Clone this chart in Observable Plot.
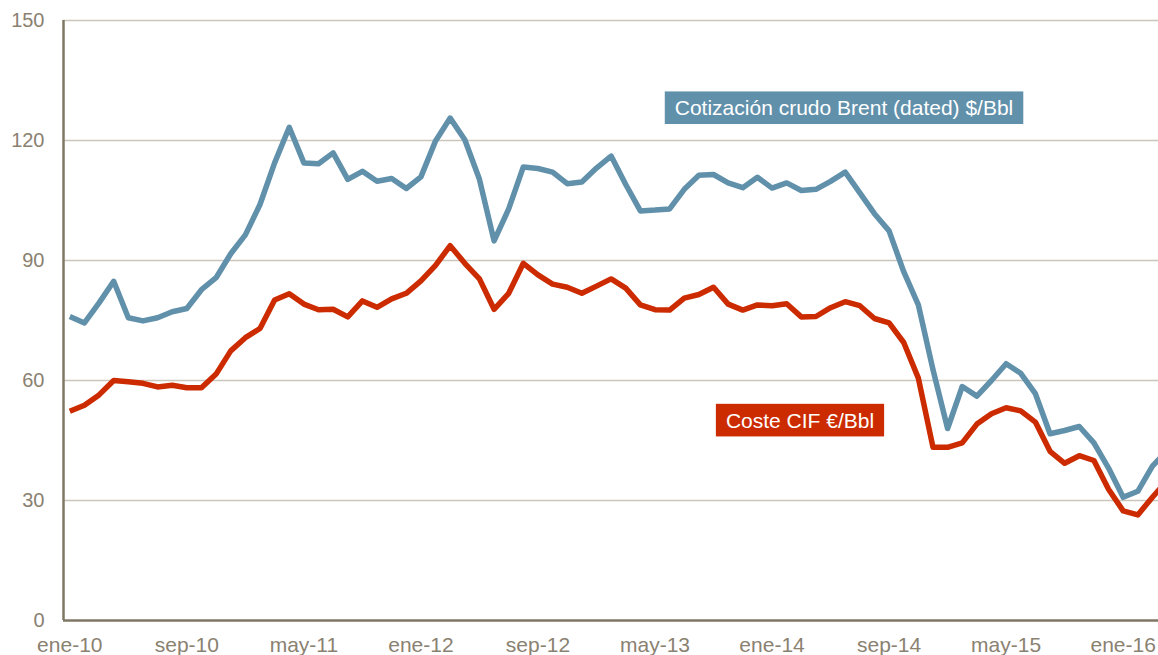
<!DOCTYPE html>
<html>
<head>
<meta charset="utf-8">
<script src="https://cdn.jsdelivr.net/npm/d3@7"></script>
<script src="https://cdn.jsdelivr.net/npm/@observablehq/plot@0.6"></script>
<style>
  html, body { margin: 0; padding: 0; background: #fff; }
  #chart { width: 1158px; height: 655px; }
</style>
</head>
<body>
<div id="chart"></div>
<script>
// Monthly series, ene-10 .. abr-16
const brent = [76.0, 74.4, 79.4, 84.8, 75.7, 74.9, 75.7, 77.2, 78.0, 82.7, 85.7, 91.7,
  96.4, 104.0, 114.4, 123.3, 114.4, 114.2, 116.9, 110.3, 112.3, 109.8, 110.5, 108.0,
  110.9, 119.9, 125.6, 120.2, 110.3, 94.9, 102.9, 113.4, 113.0, 112.1, 109.2, 109.6,
  113.1, 116.1, 109.0, 102.4, 102.6, 102.9, 107.8, 111.3, 111.5, 109.4, 108.2, 110.8,
  108.1, 109.4, 107.5, 107.8, 109.8, 112.1, 106.9, 101.7, 97.4, 87.2, 78.9, 62.7,
  48.0, 58.5, 56.1, 60.0, 64.2, 61.8, 56.7, 46.7, 47.5, 48.5, 44.4, 38.1,
  30.8, 32.3, 38.6, 42.4];
const cif = [52.3, 53.8, 56.4, 60.0, 59.7, 59.3, 58.4, 58.8, 58.2, 58.2, 61.6, 67.4,
  70.7, 73.0, 80.1, 81.7, 79.1, 77.7, 77.8, 75.9, 79.9, 78.3, 80.4, 81.8,
  84.9, 88.8, 93.7, 89.3, 85.4, 77.8, 81.8, 89.3, 86.4, 84.1, 83.3, 81.8,
  83.6, 85.4, 83.1, 78.9, 77.7, 77.6, 80.6, 81.5, 83.3, 79.1, 77.6, 78.9,
  78.7, 79.2, 75.9, 76.0, 78.2, 79.7, 78.7, 75.5, 74.4, 69.5, 60.6, 43.3,
  43.3, 44.4, 49.1, 51.7, 53.2, 52.4, 49.6, 42.3, 39.3, 41.2, 40.0, 32.8,
  27.4, 26.4, 30.8, 35.0];
const tickMonths = [0, 8, 16, 24, 32, 40, 48, 56, 64, 72];
const tickLabels = ["ene-10", "sep-10", "may-11", "ene-12", "sep-12", "may-13", "ene-14", "sep-14", "may-15", "ene-16"];
const yTicks = [0, 30, 60, 90, 120, 150];
const gridValues = [30, 60, 90, 120, 150];
const seriesNames = ["Cotización crudo Brent (dated) $/Bbl", "Coste CIF €/Bbl"];
const seriesColors = ["#6190ab", "#cc2b00"];
const labelPos = [{m: 52.92, v: 128.0}, {m: 49.91, v: 49.9}];

const rows = [];
brent.forEach((v, i) => rows.push({m: i, v, s: seriesNames[0]}));
cif.forEach((v, i) => rows.push({m: i, v, s: seriesNames[1]}));
const labels = seriesNames.map((s, k) => ({s, m: labelPos[k].m, v: labelPos[k].v, c: seriesColors[k]}));

const xDomain = [-0.4306, 74.415];
const axisColor = "#7f7764";
const tickColor = "#8a8171";

const chart = Plot.plot({
  width: 1158,
  height: 655,
  marginLeft: 63,
  marginRight: 0,
  marginTop: 20,
  marginBottom: 35,
  style: {fontFamily: "'Liberation Sans', Arial, sans-serif", fontSize: "20px", background: "#fff"},
  x: {domain: xDomain, label: null},
  y: {domain: [0, 150], label: null},
  color: {domain: seriesNames, range: seriesColors},
  marks: [
    Plot.ruleY(gridValues, {stroke: "#cbc6bc", strokeWidth: 1.5}),
    Plot.axisY(yTicks, {tickSize: 0, tickPadding: 19, fill: tickColor, fontSize: 20, label: null}),
    Plot.axisX(tickMonths, {tickSize: 0, tickPadding: 17, fill: tickColor, fontSize: 21, label: null,
      tickFormat: (d) => tickLabels[tickMonths.indexOf(d)]}),
    Plot.line(rows, {x: "m", y: "v", z: "s", stroke: "s", strokeWidth: 5.5, strokeLinejoin: "round", strokeLinecap: "butt", clip: true}),
    Plot.ruleY([0], {stroke: axisColor, strokeWidth: 2.5}),
    Plot.ruleX([xDomain[0]], {stroke: axisColor, strokeWidth: 2.5}),
    Plot.text(labels, {x: "m", y: "v", text: "s", fill: "white", fontSize: 21, textAnchor: "middle", lineAnchor: "middle"})
  ]
});
document.getElementById("chart").appendChild(chart);

// add coloured boxes behind the annotation texts
const textGroups = chart.querySelectorAll('g[aria-label="text"]');
textGroups.forEach(g => {
  g.querySelectorAll("text").forEach((t, k) => {
    const b = t.getBBox();
    const r = document.createElementNS("http://www.w3.org/2000/svg", "rect");
    const cy = b.y + b.height / 2;
    r.setAttribute("x", b.x - 10);
    r.setAttribute("y", cy - 16.3);
    r.setAttribute("width", b.width + 20);
    r.setAttribute("height", 32.6);
    r.setAttribute("fill", labels[k].c);
    const tr = t.getAttribute("transform");
    if (tr) r.setAttribute("transform", tr);
    t.parentNode.insertBefore(r, t);
  });
});
</script>
</body>
</html>
